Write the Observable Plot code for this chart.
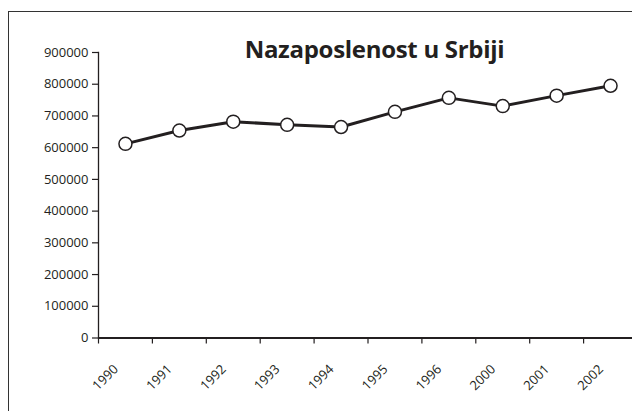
<!DOCTYPE html>
<html>
<head>
<meta charset="utf-8">
<script src="https://cdn.jsdelivr.net/npm/d3@7"></script>
<script src="https://cdn.jsdelivr.net/npm/@observablehq/plot@0.6"></script>
<style>
  html, body { margin: 0; padding: 0; background: #fff; overflow: hidden; }
  #wrap { position: relative; width: 632px; height: 411px; overflow: hidden; font-family: "Open Sans", sans-serif; }
  #border { position: absolute; left: 8px; top: 11px; width: 700px; height: 500px; border: 1.5px solid #333; box-sizing: border-box; }
  #title { position: absolute; top: 36.5px; left: 374.5px; transform: translateX(-50%); font: bold 24px/24px "Open Sans", sans-serif; color: #231f20; white-space: nowrap; letter-spacing: -0.3px; }
  #chart { position: absolute; left: 0; top: 0; }
</style>
</head>
<body>
<div id="wrap">
  <div id="border"></div>
  <div id="chart"></div>
  <div id="title">Nazaposlenost u Srbiji</div>
</div>
<script>
const years = ["1990", "1991", "1992", "1993", "1994", "1995", "1996", "2000", "2001", "2002"];
const unemployed = [612000, 654000, 682000, 672000, 665000, 713000, 757000, 731000, 764000, 795000];
const yTicks = [0, 100000, 200000, 300000, 400000, 500000, 600000, 700000, 800000, 900000];

const data = years.map((year, i) => ({year, i, value: unemployed[i]}));
const ink = "#231f20";

const chart = Plot.plot({
  width: 632,
  height: 411,
  marginLeft: 98,
  marginRight: -5,
  marginTop: 52,
  marginBottom: 73.5,
  style: {fontFamily: "Open Sans, sans-serif", fontSize: "13px", color: ink, background: "transparent", maxWidth: "none"},
  x: {type: "linear", domain: [0, years.length]},
  y: {domain: [0, 900000]},
  marks: [
    Plot.axisY({ticks: yTicks, tickFormat: d => String(d), tickSize: 6, tickPadding: 4, stroke: ink, strokeWidth: 1.2, fill: ink, fontSize: 13, label: null}),
    Plot.axisX({ticks: d3.range(years.length + 1), tickFormat: () => "", tickSize: 6, stroke: ink, strokeWidth: 1.2, label: null}),
    Plot.frame({anchor: "left", stroke: ink, strokeWidth: 1.3}),
    Plot.ruleY([0], {stroke: ink, strokeWidth: 2.2}),
    Plot.text(data, {x: d => d.i + 0.5, y: 0, text: "year", rotate: -45, textAnchor: "end", dx: -9.5, dy: 29, fill: ink, fontSize: 13}),
    Plot.line(data, {x: d => d.i + 0.5, y: "value", stroke: ink, strokeWidth: 3}),
    Plot.dot(data, {x: d => d.i + 0.5, y: "value", r: 6.5, fill: "white", stroke: ink, strokeWidth: 1.5})
  ]
});
document.getElementById("chart").appendChild(chart);
</script>
</body>
</html>
